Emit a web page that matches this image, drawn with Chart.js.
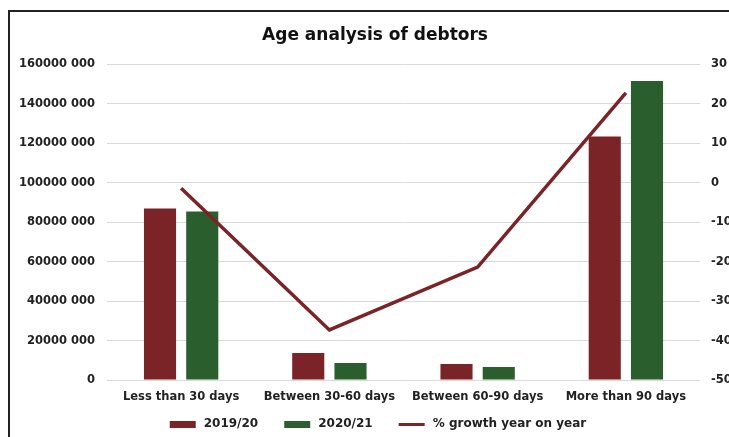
<!DOCTYPE html>
<html>
<head>
<meta charset="utf-8">
<script src="https://cdn.jsdelivr.net/npm/chart.js@4"></script>
<style>
  html, body { margin: 0; padding: 0; background: #fff; overflow: hidden; width: 729px; height: 437px; }
  #frame { position: absolute; left: 8px; top: 10px; width: 800px; height: 500px; border-left: 2px solid #222; border-top: 2px solid #222; }
  #chartBox { position: absolute; left: 0; top: 0; }
</style>
</head>
<body>
<div id="frame"></div>
<div id="chartBox"><canvas id="debtorsChart" width="760" height="437"></canvas></div>
<script>
var categories = ['Less than 30 days', 'Between 30-60 days', 'Between 60-90 days', 'More than 90 days'];
var debtors2019 = [87000000, 13700000, 8100000, 123500000];
var debtors2020 = [85400000, 8600000, 6600000, 151600000];
var growthPct = [-1.4, -37.3, -21.4, 22.8];

var RED = '#7b2427';
var GREEN = '#2b5e2d';

// legend swatch: blank gap on the left, coloured block, small gap before the text
function legendSwatch(color, h) {
    var c = document.createElement('canvas');
    c.width = 42;
    c.height = h;
    var g = c.getContext('2d');
    g.fillStyle = color;
    g.fillRect(14, 0, 26, h);
    return c;
}

function spaceThousands(value) {
    if (value === 0) return '0';
    var s = String(value);
    return s.slice(0, -3) + ' ' + s.slice(-3);
}

// nudge the legend left so the blank in front of the first swatch does not offset it
var legendShift = {
    id: 'legendShift',
    afterLayout: function(chart) {
        var lg = chart.legend;
        if (!lg || lg._shifted) return;
        var draw = lg.draw;
        lg.draw = function() {
            this.ctx.save();
            this.ctx.translate(-4, -1);
            draw.apply(this, arguments);
            this.ctx.restore();
        };
        lg._shifted = true;
    }
};

var fontFamily = '"DejaVu Sans", Verdana, sans-serif';

var ctx = document.getElementById('debtorsChart').getContext('2d');
var debtorsChart = new Chart(ctx, {
    type: 'bar',
    data: {
        labels: categories,
        datasets: [{
            label: '2019/20',
            data: debtors2019,
            backgroundColor: RED,
            yAxisID: 'y',
            order: 1
        }, {
            label: '2020/21',
            data: debtors2020,
            backgroundColor: GREEN,
            yAxisID: 'y',
            order: 1
        }, {
            type: 'line',
            label: '% growth year on year',
            data: growthPct,
            borderColor: RED,
            backgroundColor: RED,
            borderWidth: 3.5,
            pointRadius: 0,
            tension: 0,
            yAxisID: 'y1',
            order: 0
        }]
    },
    plugins: [legendShift],
    options: {
        responsive: false,
        animation: false,
        categoryPercentage: 0.57,
        barPercentage: 0.76,
        layout: { padding: { left: 0, right: 10, top: 0, bottom: -4 } },
        plugins: {
            title: {
                display: true,
                text: 'Age analysis of debtors',
                color: '#111',
                font: { family: fontFamily, size: 17, weight: 'bold' },
                padding: { top: 25, bottom: 19 }
            },
            legend: {
                position: 'bottom',
                labels: {
                    color: '#222',
                    font: { family: fontFamily, size: 12, weight: 'bold' },
                    usePointStyle: true,
                    pointStyleWidth: 42,
                    boxHeight: 12,
                    padding: 12,
                    sort: function(a, b) { return a.datasetIndex - b.datasetIndex; },
                    generateLabels: function(chart) {
                        var items = Chart.defaults.plugins.legend.labels.generateLabels(chart);
                        items.forEach(function(item) {
                            if (item.datasetIndex === 2) {
                                item.pointStyle = legendSwatch(RED, 3);
                            } else {
                                item.pointStyle = legendSwatch(item.datasetIndex === 0 ? RED : GREEN, 7);
                            }
                        });
                        return items;
                    }
                }
            },
            tooltip: { enabled: false }
        },
        scales: {
            x: {
                grid: { display: false, drawTicks: false },
                border: { display: false },
                ticks: {
                    color: '#222',
                    padding: 10,
                    font: { family: fontFamily, size: 11.5, weight: 'bold' }
                },
                afterFit: function(scale) { scale.height = 27; }
            },
            y: {
                position: 'left',
                min: 0,
                max: 160000000,
                grid: { color: '#d9d9d9', drawTicks: false, tickLength: 0 },
                border: { display: false },
                ticks: {
                    stepSize: 20000000,
                    color: '#222',
                    padding: 12,
                    font: { family: fontFamily, size: 11.5, weight: 'bold' },
                    callback: function(v) { return spaceThousands(v); }
                },
                afterFit: function(scale) { scale.width = 107; }
            },
            y1: {
                position: 'right',
                min: -50,
                max: 30,
                grid: { drawOnChartArea: false, drawTicks: false, tickLength: 0 },
                border: { display: false },
                ticks: {
                    stepSize: 10,
                    color: '#222',
                    padding: 11,
                    font: { family: fontFamily, size: 11.5, weight: 'bold' }
                },
                afterFit: function(scale) { scale.width = 50; }
            }
        }
    }
});
</script>
</body>
</html>
